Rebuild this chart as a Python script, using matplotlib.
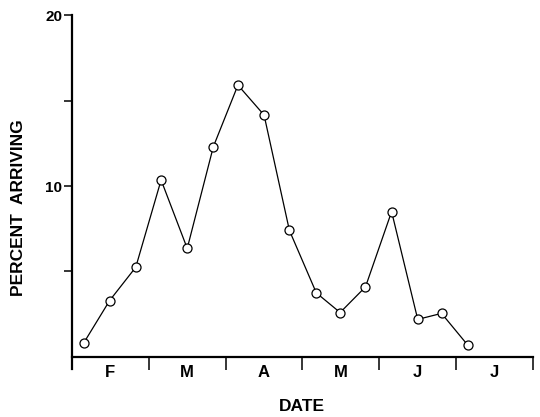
import matplotlib
matplotlib.use('Agg')
import matplotlib.pyplot as plt
from matplotlib.ticker import FixedLocator, NullFormatter

plt.rcParams['font.family'] = ['Liberation Sans', 'DejaVu Sans']
plt.rcParams['font.weight'] = 'bold'

# sample dates in months since 1 Feb (roughly every 10 days)
months_x = [0.15, 0.49, 0.83, 1.16, 1.50, 1.84, 2.16, 2.50, 2.83, 3.18,
            3.49, 3.82, 4.16, 4.50, 4.81, 5.15]
percent = [0.8, 3.3, 5.25, 10.35, 6.35, 12.3, 15.9, 14.15, 7.4, 3.75,
           2.6, 4.1, 8.5, 2.2, 2.55, 0.7]
month_labels = ['F', 'M', 'A', 'M', 'J', 'J']

fig = plt.figure(figsize=(5.4, 4.17), dpi=100)
ax = fig.add_axes([0.1333, 0.1439, 0.8537, 0.8201])

ax.plot(months_x, percent, color='black', lw=0.9, marker='o', ms=6.5,
        mfc='white', mec='black', mew=0.9, clip_on=False, zorder=3)

ax.set_xlim(0, 6)
ax.set_ylim(0, 20)
for s in ['top', 'right']:
    ax.spines[s].set_visible(False)
for s in ['left', 'bottom']:
    ax.spines[s].set_linewidth(1.6)
ax.spines['left'].set_bounds(-0.7, 20)

# x: boundaries as ticks, month letters in between
ax.xaxis.set_major_locator(FixedLocator(range(7)))
ax.xaxis.set_major_formatter(NullFormatter())
ax.xaxis.set_minor_locator(FixedLocator([i + 0.5 for i in range(6)]))
ax.set_xticklabels(month_labels, minor=True, fontweight='bold')
ax.tick_params(axis='x', which='major', direction='out', length=9.5, width=1.1)
ax.tick_params(axis='x', which='minor', length=0, pad=6, labelsize=12)

# y: labels only at 10 and 20
ax.yaxis.set_major_locator(FixedLocator([10, 20]))
ax.set_yticklabels(['10', '20'], fontweight='bold')
ax.yaxis.set_minor_locator(FixedLocator([5, 15]))
ax.tick_params(axis='y', which='both', direction='out', length=6, width=1.1,
               labelsize=11, pad=1)

fig.text(0.035, 0.503, 'PERCENT  ARRIVING', rotation=90, ha='center',
         va='center', fontsize=12.5, fontweight='bold')
fig.text(0.559, 0.024, 'DATE', ha='center', va='center', fontsize=12.5,
         fontweight='bold')

fig.savefig('out.png', dpi=100)
